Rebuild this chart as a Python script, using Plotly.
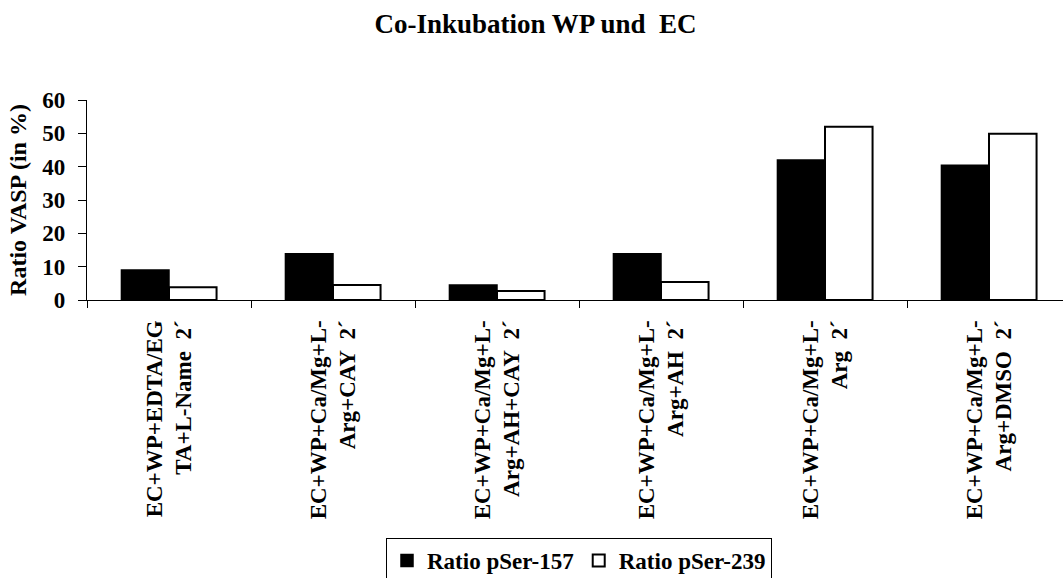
import plotly.graph_objects as go

categories = [
    "EC+WP+EDTA/EG<br>TA+L-Name \u00a02´",
    "EC+WP+Ca/Mg+L-<br>Arg+CAY \u00a02´",
    "EC+WP+Ca/Mg+L-<br>Arg+AH+CAY \u00a02´",
    "EC+WP+Ca/Mg+L-<br>Arg+AH \u00a02´",
    "EC+WP+Ca/Mg+L-<br>Arg \u00a02´",
    "EC+WP+Ca/Mg+L-<br>Arg+DMSO \u00a02´",
]
ser157 = [9.0, 13.9, 4.5, 13.9, 42.0, 40.4]
ser239 = [3.8, 4.5, 2.7, 5.4, 52.0, 49.9]
series_names = ["Ratio pSer-157", "Ratio pSer-239"]
yticks = [0, 10, 20, 30, 40, 50, 60]

FONT = "Liberation Serif, Times New Roman, serif"

fig = go.Figure()
fig.add_trace(go.Bar(x=categories, y=ser157, name=series_names[0],
                     marker=dict(color="#000000", line=dict(color="#000000", width=1.5))))
fig.add_trace(go.Bar(x=categories, y=ser239, name=series_names[1],
                     marker=dict(color="#FFFFFF", line=dict(color="#000000", width=2))))

L, PX_PER_CAT = 87, 164
W = 1063
xmax = -0.5 + (W - L) / PX_PER_CAT

fig.update_layout(
    width=1063, height=578,
    margin=dict(l=L, r=0, t=100, b=278, autoexpand=False),
    paper_bgcolor="white", plot_bgcolor="white",
    font=dict(family=FONT, color="black", size=23, weight="bold"),
    barmode="group", bargap=0.42, bargroupgap=0,
    title=dict(text="Co-Inkubation WP und \u00a0EC", font=dict(size=27, family=FONT, weight="bold"),
               x=535.5 / 1063, xref="container", xanchor="center",
               y=1 - 14 / 578, yref="container", yanchor="top"),
    showlegend=True,
    legend=dict(orientation="h", x=579 / 1063, xref="container", xanchor="center",
                y=1 - 538 / 578, yref="container", yanchor="top",
                bordercolor="black", borderwidth=1, bgcolor="white",
                font=dict(size=23, family=FONT, weight="bold"),
                traceorder="normal", itemwidth=30),
    xaxis=dict(range=[-0.5, xmax], showline=True, linecolor="black", linewidth=1.3,
               ticks="outside", ticklen=7, tickcolor="black", tickwidth=1,
               tickson="boundaries", tickangle=-90, ticklabelstandoff=10,
               showgrid=False, zeroline=False, tickfont=dict(size=23)),
    yaxis=dict(range=[0, 60], tickvals=yticks, showline=True, linecolor="black", linewidth=1.3,
               ticks="outside", ticklen=8, tickcolor="black", tickwidth=1,
               showgrid=False, zeroline=False, tickfont=dict(size=23),
               ticklabelstandoff=8,
               title=dict(text="Ratio VASP (in %)", font=dict(size=24), standoff=8)),
)

fig.write_html("out.html")
